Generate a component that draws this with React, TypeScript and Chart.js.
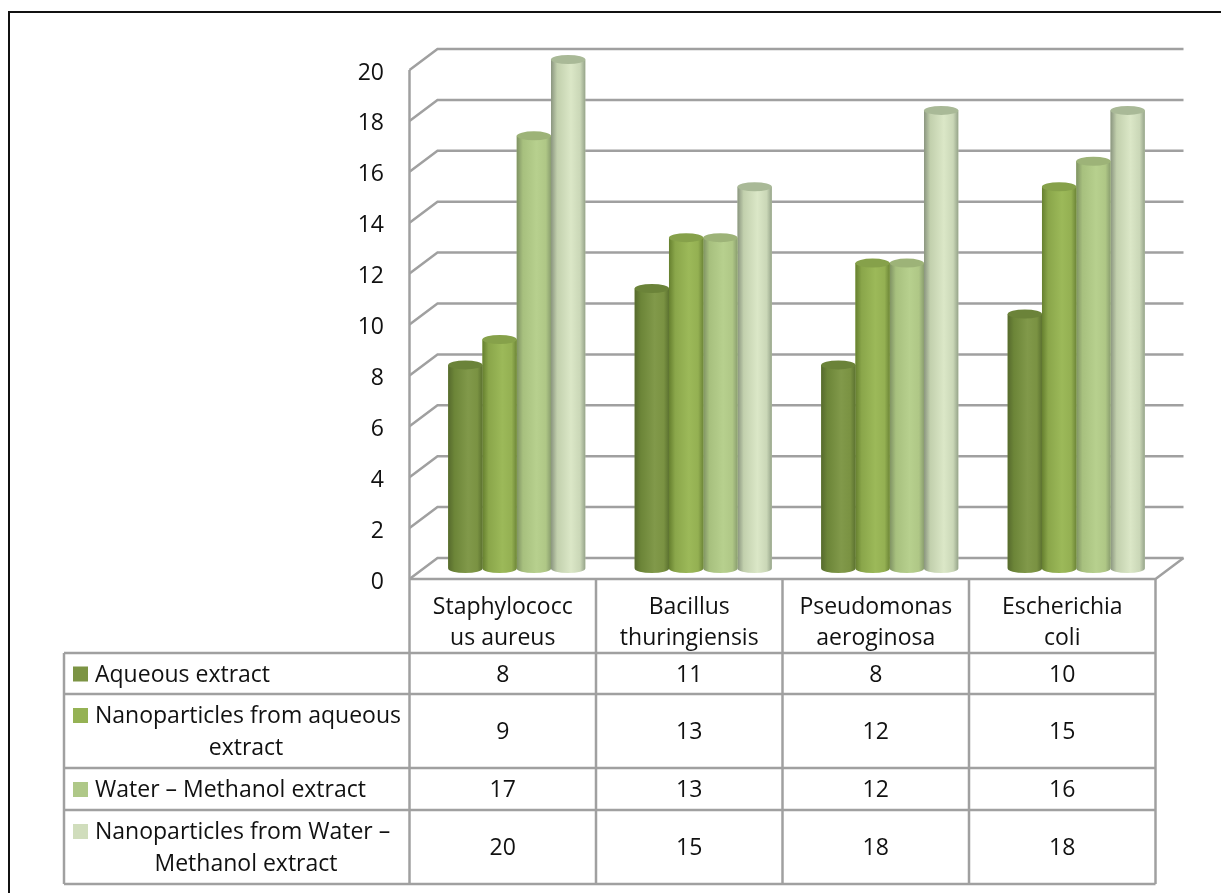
import React, { useEffect, useRef } from "react";
import { Chart, registerables } from "chart.js";

Chart.register(...registerables);

const categories = [
  ["Staphylococc", "us aureus"],
  ["Bacillus", "thuringiensis"],
  ["Pseudomonas", "aeroginosa"],
  ["Escherichia", "coli"],
];
const seriesNames = [
  "Aqueous extract",
  "Nanoparticles from aqueous extract",
  "Water – Methanol extract",
  "Nanoparticles from Water – Methanol extract",
];
const legendLines = [
  ["Aqueous extract"],
  ["Nanoparticles from aqueous", "extract"],
  ["Water – Methanol extract"],
  ["Nanoparticles from Water –", "Methanol extract"],
];
const aqueous = [8, 11, 8, 10];
const nanoAqueous = [9, 13, 12, 15];
const waterMethanol = [17, 13, 12, 16];
const nanoWaterMethanol = [20, 15, 18, 18];
const seriesValues = [aqueous, nanoAqueous, waterMethanol, nanoWaterMethanol];

const swatchColors = ["#7c9444", "#95b254", "#afc888", "#d0ddbc"];
const capColors = ["#6b8339", "#86a14a", "#9db378", "#a9b997"];
const shadeStops = [
  ["#566a2d", "#6c8538", "#81994a", "#7a9242", "#5c7230"],
  ["#66802f", "#8aa64a", "#9cb959", "#94b052", "#6d8637"],
  ["#7f9263", "#a7c07e", "#b7d08e", "#afc786", "#8a9e6f"],
  ["#8a957f", "#c2d0ad", "#dbe7c7", "#cad7b7", "#96a48a"],
];

const FONT = "23px 'Open Sans'";
const TEXT_NUDGE = 1.5;
const GRID = "#a0a0a0";
const TEXT = "#111111";

// Depth of the 3D box: the bars stand halfway between the front and back planes.
const DX = 14;
const DY = 10.5;
const CAP_RY = 4.5;

const line = (ctx: CanvasRenderingContext2D, pts: number[][], color = GRID, width = 2.5) => {
  ctx.beginPath();
  pts.forEach(([x, y], i) => (i ? ctx.lineTo(x, y) : ctx.moveTo(x, y)));
  ctx.strokeStyle = color;
  ctx.lineWidth = width;
  ctx.stroke();
};

const boxPlugin = {
  id: "box3d",
  beforeDatasetsDraw(chart: any) {
    const { ctx, chartArea: a, scales } = chart;
    const y = scales.y;
    ctx.save();
    // Page frame
    line(ctx, [[9, 893], [9, 12], [1221, 12]], "#111111", 2);
    // Back wall gridlines with their slanted returns to the front axis
    const frontL = a.left - DX;
    const backL = a.left + DX;
    const backR = a.right + DX;
    const frontR = a.right - DX;
    y.ticks.forEach((t: any) => {
      const py = y.getPixelForValue(t.value);
      line(ctx, [[frontL, py + DY], [backL, py - DY], [backR, py - DY]]);
    });
    const base = y.getPixelForValue(0);
    line(ctx, [[frontL, base + DY], [frontR, base + DY], [backR, base - DY]]);
    line(ctx, [[frontL, y.getPixelForValue(20) + DY], [frontL, base + DY]]);
    // Value axis labels sit beside the front plane
    ctx.font = FONT;
    ctx.fillStyle = TEXT;
    ctx.textAlign = "right";
    ctx.textBaseline = "middle";
    y.ticks.forEach((t: any) => {
      ctx.fillText(t.label, 384, y.getPixelForValue(t.value) + 12 + TEXT_NUDGE);
    });
    ctx.restore();
  },
  afterDatasetDraw(chart: any, args: any) {
    // Turns each flat bar into a shaded cylinder
    const { ctx } = chart;
    const i = args.index;
    const meta = chart.getDatasetMeta(i);
    ctx.save();
    meta.data.forEach((bar: any) => {
      const { x, y, base, width } = bar.getProps(["x", "y", "base", "width"], true);
      const left = x - width / 2;
      const rx = width / 2;
      const g = ctx.createLinearGradient(left, 0, left + width, 0);
      [0, 0.18, 0.58, 0.85, 1].forEach((s, k) => g.addColorStop(s, shadeStops[i][k]));
      ctx.beginPath();
      ctx.moveTo(left, y);
      ctx.lineTo(left, base);
      ctx.ellipse(x, base, rx, CAP_RY, 0, Math.PI, 0, true);
      ctx.lineTo(left + width, y);
      ctx.closePath();
      ctx.fillStyle = g;
      ctx.fill();
      ctx.beginPath();
      ctx.ellipse(x, y, rx, CAP_RY, 0, 0, Math.PI * 2);
      ctx.fillStyle = capColors[i];
      ctx.fill();
    });
    ctx.restore();
  },
  afterDraw(chart: any) {
    // Data table under the plot
    const { ctx, scales } = chart;
    const xs = scales.x;
    const step = xs.getPixelForValue(1) - xs.getPixelForValue(0);
    const colLeft = xs.getPixelForValue(0) - step / 2 - DX;
    const colEdges = categories.map((_, c) => colLeft + step * c);
    colEdges.push(colLeft + step * categories.length);
    const tableLeft = 64;
    const right = colEdges[colEdges.length - 1];
    const headTop = 579;
    const rowEdges = [653, 694, 768, 810, 884];
    ctx.save();
    colEdges.forEach((cx) => line(ctx, [[cx, headTop], [cx, rowEdges[4]]]));
    rowEdges.forEach((ry) => line(ctx, [[tableLeft, ry], [right, ry]]));
    line(ctx, [[tableLeft, rowEdges[0]], [tableLeft, rowEdges[4]]]);

    ctx.font = FONT;
    ctx.fillStyle = TEXT;
    ctx.textBaseline = "middle";
    ctx.textAlign = "center";
    categories.forEach((lines, c) => {
      const cx = colEdges[c] + step / 2;
      ctx.fillText(lines[0], cx, 606 + TEXT_NUDGE);
      ctx.fillText(lines[1], cx, 637 + TEXT_NUDGE);
    });
    seriesValues.forEach((vals, s) => {
      const cy = (rowEdges[s] + rowEdges[s + 1]) / 2;
      vals.forEach((v, c) => ctx.fillText(String(v), colEdges[c] + step / 2, cy + TEXT_NUDGE));
      const lines = legendLines[s];
      const firstY = lines.length > 1 ? cy - 16 : cy;
      ctx.fillStyle = swatchColors[s];
      ctx.fillRect(73, firstY - 7, 15, 15);
      ctx.fillStyle = TEXT;
      ctx.textAlign = "left";
      ctx.fillText(lines[0], 95, firstY + TEXT_NUDGE);
      ctx.textAlign = "center";
      if (lines[1]) ctx.fillText(lines[1], 246, cy + 16 + TEXT_NUDGE);
    });
    ctx.restore();
  },
};

export default function App() {
  const ref = useRef<HTMLCanvasElement>(null);
  useEffect(() => {
    const chart = new Chart(ref.current as HTMLCanvasElement, {
      type: "bar",
      data: {
        labels: categories,
        datasets: seriesNames.map((label, i) => ({
          label,
          data: seriesValues[i],
          backgroundColor: swatchColors[i],
          barPercentage: 1,
          categoryPercentage: 0.735,
        })),
      },
      options: {
        animation: false,
        responsive: false,
        layout: { padding: { left: 423.5, right: 51.5, top: 59.5, bottom: 324.5 } },
        plugins: { legend: { display: false }, tooltip: { enabled: false } },
        scales: {
          x: { display: false },
          y: { display: false, min: 0, max: 20, ticks: { stepSize: 2 } },
        },
      },
      plugins: [boxPlugin],
    });
    return () => chart.destroy();
  }, []);
  return (
    <canvas
      ref={ref}
      width={1221}
      height={893}
      style={{ position: "absolute", left: 0, top: 0, background: "#ffffff" }}
    />
  );
}
